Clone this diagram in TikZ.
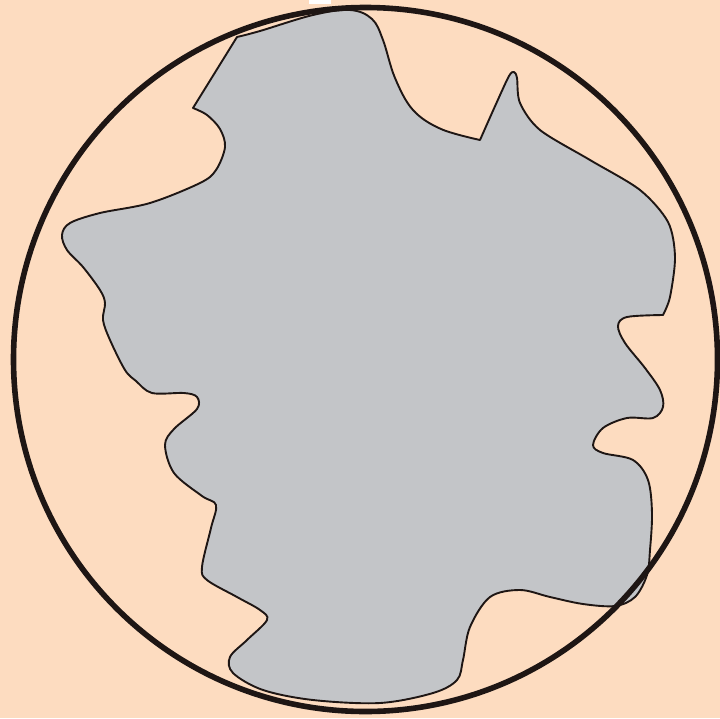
\documentclass[tikz,border=0pt]{standalone}
\definecolor{peach}{RGB}{253,220,192}
\definecolor{blobgray}{RGB}{195,197,200}
\definecolor{ink}{RGB}{30,22,20}
\tikzset{
  blob/.style={fill=blobgray, draw=ink, line width=1.9pt, line join=round},
  ring/.style={draw=ink, line width=5.6pt}
}
\begin{document}
\begin{tikzpicture}[x=1pt,y=-1pt]
\useasboundingbox (0,0) rectangle (720,718);
\fill[peach] (0,0) rectangle (720,718);
\fill[white] (309,0) rectangle (331,4);
\filldraw[blob] (193,108) -- plot[smooth, tension=0.6] coordinates {(237,37) (260,31) (313,15) (350,10) (372,19) (383,40) (395,78) (413,110) (441,129) (480,140)}
 -- plot[smooth, tension=0.5] coordinates {(480,140) (496,104) (509,76) (514,72) (517,78) (520,103) (540,130) (590,160) (640,190) (668,222) (675,257) (670,297) (663,315)}
 -- plot[smooth, tension=0.55] coordinates {(663,315) (627,317) (618,326) (625,343) (645,368) (660,390) (663,407) (653,418) (627,418) (603,428) (593,445) (603,453) (633,460) (648,480) (652,513) (650,550) (647,575) (635,597) (615,606) (583,604) (550,597) (520,590) (490,597) (470,627) (463,660) (457,680) (433,693) (380,703) (313,700) (263,690) (233,673) (230,657) (247,640) (267,620) (260,610) (237,597) (207,580) (202,567) (211,528) (216,505) (202,496) (174,473) (165,445) (174,429) (197,409) (197,397) (184,393) (152,393) (136,381) (125,370) (110,340) (103,320) (105,303) (100,290) (83,267) (67,250) (62,235) (70,223) (100,213) (150,203) (200,183) (216,170) (225,147) (220,129) (207,115) (193,108)} -- cycle;
\node[circle, ring, minimum size=704pt, inner sep=0pt] (rim) at (365.5,359.5) {};
\end{tikzpicture}
\end{document}
